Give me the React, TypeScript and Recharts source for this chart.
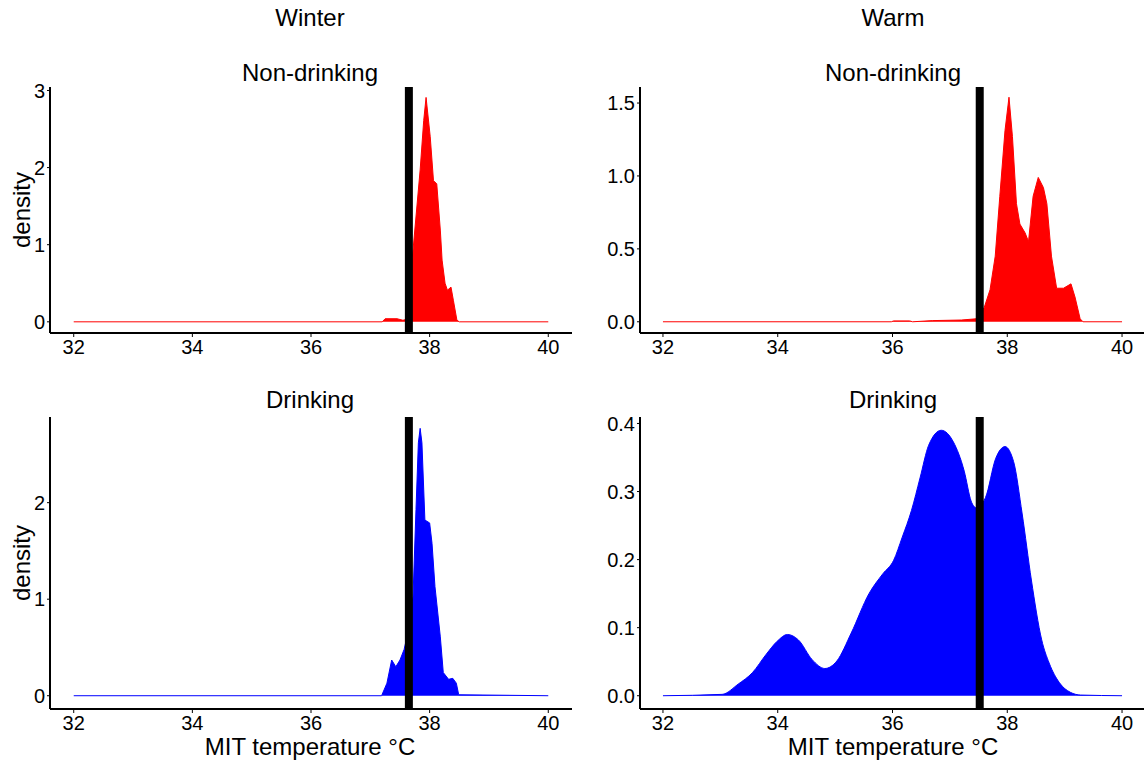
import { AreaChart, Area, XAxis, YAxis, ReferenceLine } from "recharts";

const FONT = '"Liberation Sans", Arial, sans-serif';

const tempTicks = [32, 34, 36, 38, 40];

// Winter, non-drinking
const winterDryTemp = [32, 37.2, 37.25, 37.45, 37.55, 37.6, 37.66, 37.72, 37.78, 37.84, 37.9, 37.94, 38.01, 38.065, 38.12, 38.18, 38.21, 38.26, 38.3, 38.36, 38.4, 38.46, 38.5, 40];
const winterDryDensity = [0, 0, 0.04, 0.04, 0.02, 0.03, 0.5, 0.93, 1.45, 1.97, 2.61, 2.91, 2.4, 1.83, 1.79, 1.19, 0.8, 0.5, 0.41, 0.45, 0.28, 0.02, 0, 0];

// Warm, non-drinking
const warmDryTemp = [32, 35.98, 36.02, 36.3, 36.35, 36.7, 37.2, 37.45, 37.52, 37.6, 37.7, 37.79, 37.87, 37.96, 38.03, 38.09, 38.16, 38.22, 38.31, 38.37, 38.45, 38.54, 38.63, 38.69, 38.77, 38.86, 38.98, 39.11, 39.18, 39.27, 39.32, 40];
const warmDryDensity = [0, 0, 0.006, 0.006, 0, 0.008, 0.012, 0.02, 0.05, 0.1, 0.22, 0.45, 0.86, 1.31, 1.54, 1.27, 0.81, 0.67, 0.61, 0.55, 0.86, 0.99, 0.92, 0.81, 0.45, 0.23, 0.23, 0.26, 0.17, 0.02, 0, 0];

// Winter, drinking
const winterWetTemp = [32, 37.19, 37.28, 37.36, 37.43, 37.5, 37.57, 37.65, 37.72, 37.77, 37.81, 37.84, 37.87, 37.92, 38.0, 38.04, 38.09, 38.18, 38.23, 38.32, 38.39, 38.45, 38.49, 40];
const winterWetDensity = [0, 0, 0.13, 0.37, 0.3, 0.37, 0.48, 0.7, 1.03, 1.93, 2.62, 2.77, 2.62, 1.82, 1.79, 1.58, 1.13, 0.61, 0.24, 0.17, 0.18, 0.13, 0.01, 0];

// Warm, drinking
const warmWetTemp = [32, 33.03, 33.31, 33.56, 33.8, 33.99, 34.17, 34.36, 34.6, 34.82, 35.03, 35.28, 35.59, 35.83, 36.02, 36.17, 36.33, 36.48, 36.63, 36.85, 37.06, 37.25, 37.37, 37.46, 37.62, 37.8, 37.96, 38.11, 38.26, 38.42, 38.6, 38.73, 38.91, 39.1, 39.28, 40];
const warmWetDensity = [0, 0.002, 0.017, 0.034, 0.061, 0.08, 0.09, 0.082, 0.053, 0.04, 0.051, 0.092, 0.15, 0.179, 0.199, 0.233, 0.272, 0.32, 0.368, 0.39, 0.373, 0.33, 0.286, 0.276, 0.291, 0.349, 0.366, 0.344, 0.267, 0.17, 0.082, 0.048, 0.019, 0.005, 0.001, 0];

const winterCutoff = 37.65;
const warmCutoff = 37.52;

interface PanelProps {
  left: number;
  top: number;
  plotWidth: number;
  plotHeight: number;
  temps: number[];
  dens: number[];
  color: string;
  curve: "linear" | "monotone";
  yDomain: [number, number];
  yTicks: number[];
  yFmt: (v: number) => string;
  cutoff: number;
}

function Panel(p: PanelProps) {
  const data = p.temps.map((t, i) => ({ t, d: p.dens[i] }));
  const yAxisW = 60;
  const mTop = 12;
  const xAxisH = 36;
  return (
    <div style={{ position: "absolute", left: p.left - yAxisW, top: p.top - mTop }}>
      <AreaChart
        width={yAxisW + p.plotWidth + 2}
        height={mTop + p.plotHeight + xAxisH}
        data={data}
        margin={{ top: mTop, right: 2, bottom: 0, left: 0 }}
      >
        <XAxis
          type="number"
          dataKey="t"
          domain={[31.6, 40.4]}
          allowDataOverflow
          ticks={tempTicks}
          interval={0}
          height={xAxisH}
          tickSize={4}
          tickMargin={3}
          axisLine={{ stroke: "#000", strokeWidth: 2 }}
          tickLine={{ stroke: "#000" }}
          tick={{ fill: "#000", fontSize: 20, fontFamily: FONT }}
        />
        <YAxis
          type="number"
          domain={p.yDomain}
          allowDataOverflow
          ticks={p.yTicks}
          interval={0}
          width={yAxisW}
          tickSize={3}
          tickMargin={2}
          tickFormatter={p.yFmt}
          axisLine={{ stroke: "#000", strokeWidth: 2 }}
          tickLine={{ stroke: "#000" }}
          tick={{ fill: "#000", fontSize: 20, fontFamily: FONT }}
        />
        <Area
          type={p.curve}
          dataKey="d"
          stroke={p.color}
          strokeWidth={1}
          fill={p.color}
          fillOpacity={1}
          baseValue={0}
          dot={false}
          activeDot={false}
          isAnimationActive={false}
        />
        <ReferenceLine x={p.cutoff} stroke="#000" strokeWidth={8} />
      </AreaChart>
    </div>
  );
}

function Text({ x, y, children, rotate }: { x: number; y: number; children: string; rotate?: boolean }) {
  return (
    <div
      style={{
        position: "absolute",
        left: x - 200,
        top: y - 13,
        width: 400,
        textAlign: "center",
        fontFamily: FONT,
        fontSize: 24,
        lineHeight: "26px",
        color: "#000",
        transform: rotate ? "rotate(-90deg)" : undefined,
        whiteSpace: "nowrap",
      }}
    >
      {children}
    </div>
  );
}

const intFmt = (v: number) => String(v);
const oneDec = (v: number) => v.toFixed(1);

export default function App() {
  return (
    <div
      style={{
        position: "absolute",
        left: 0,
        top: 0,
        width: 1144,
        height: 765,
        overflow: "hidden",
        background: "#fff",
      }}
    >
      <Text x={310} y={18}>Winter</Text>
      <Text x={893} y={18}>Warm</Text>
      <Text x={310} y={73}>Non-drinking</Text>
      <Text x={893} y={73}>Non-drinking</Text>
      <Text x={310} y={400}>Drinking</Text>
      <Text x={893} y={400}>Drinking</Text>
      <Text x={310} y={747}>MIT temperature °C</Text>
      <Text x={893} y={747}>MIT temperature °C</Text>
      <Text x={22} y={210} rotate>density</Text>
      <Text x={22} y={563} rotate>density</Text>

      <Panel
        left={50}
        top={87}
        plotWidth={522}
        plotHeight={246}
        temps={winterDryTemp}
        dens={winterDryDensity}
        color="#ff0000"
        curve="linear"
        yDomain={[-0.145, 3.045]}
        yTicks={[0, 1, 2, 3]}
        yFmt={intFmt}
        cutoff={winterCutoff}
      />
      <Panel
        left={640}
        top={87}
        plotWidth={505}
        plotHeight={246}
        temps={warmDryTemp}
        dens={warmDryDensity}
        color="#ff0000"
        curve="linear"
        yDomain={[-0.077, 1.61]}
        yTicks={[0, 0.5, 1, 1.5]}
        yFmt={oneDec}
        cutoff={warmCutoff}
      />
      <Panel
        left={50}
        top={417}
        plotWidth={522}
        plotHeight={292}
        temps={winterWetTemp}
        dens={winterWetDensity}
        color="#0000ff"
        curve="linear"
        yDomain={[-0.1375, 2.8875]}
        yTicks={[0, 1, 2]}
        yFmt={intFmt}
        cutoff={winterCutoff}
      />
      <Panel
        left={640}
        top={417}
        plotWidth={505}
        plotHeight={292}
        temps={warmWetTemp}
        dens={warmWetDensity}
        color="#0000ff"
        curve="monotone"
        yDomain={[-0.0195, 0.4095]}
        yTicks={[0, 0.1, 0.2, 0.3, 0.4]}
        yFmt={oneDec}
        cutoff={warmCutoff}
      />
    </div>
  );
}
